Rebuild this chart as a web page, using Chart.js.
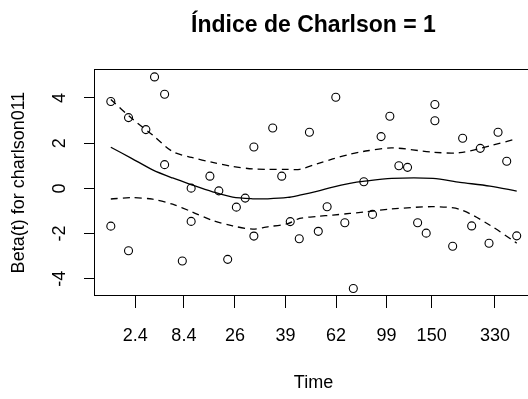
<!DOCTYPE html>
<html>
<head>
<meta charset="utf-8">
<script src="https://cdn.jsdelivr.net/npm/chart.js@4.4.1/dist/chart.umd.min.js"></script>
<style>
  html, body { margin: 0; padding: 0; background: #fff; overflow: hidden; }
  #wrap { position: relative; width: 540px; height: 399px; }
</style>
</head>
<body>
<div id="wrap"><canvas id="c" width="540" height="399" style="width:540px;height:399px"></canvas></div>
<script>
// Scaled Schoenfeld residuals for charlson011 against transformed event time
const timeRank = [1.0, 1.0, 3.02, 3.02, 5.0, 5.99, 7.14, 7.14, 9.16, 10.17, 10.17, 12.31,
  13.33, 14.34, 15.33, 16.34, 17.33, 17.33, 19.48, 20.51, 21.48, 22.51, 23.67, 24.68,
  25.69, 26.68, 27.71, 28.68, 29.88, 30.87, 31.85, 32.85, 33.88, 34.87, 36.02, 37.0,
  37.99, 37.99, 40.02, 41.16, 42.19, 43.17, 44.17, 45.2, 46.19, 47.33];
const residuals = [3.84, -1.67, 3.13, -2.76, 2.60, 4.93, 4.16, 1.05, -3.21, 0.01, -1.46, 0.54,
  -0.11, -3.14, -0.83, -0.43, 1.83, -2.11, 2.67, 0.54, -1.47, -2.23, 2.48, -1.90,
  -0.81, 4.03, -1.52, -4.43, 0.29, -1.15, 2.29, 3.19, 1.00, 0.93, -1.52, -1.98,
  3.71, 2.99, -2.56, 2.22, -1.66, 1.77, -2.43, 2.48, 1.20, -2.10];

// Smoothed Beta(t) with its confidence band
const smoothX = [1.0, 3.37, 5.77, 8.05, 10.22, 12.62, 14.91, 17.2, 18.91, 21.19, 22.56,
  24.62, 26.34, 28.28, 29.77, 33.08, 37.77, 40.85, 44.28, 47.33];
const betaFit = [1.82, 1.33, 0.82, 0.46, 0.16, -0.15, -0.39, -0.46, -0.46, -0.40, -0.30,
  -0.12, 0.06, 0.22, 0.31, 0.44, 0.44, 0.27, 0.10, -0.12];
const betaUpper = [3.93, 3.10, 2.36, 1.63, 1.37, 1.15, 0.97, 0.86, 0.84, 0.84, 0.84,
  1.10, 1.30, 1.51, 1.63, 1.79, 1.60, 1.58, 1.88, 2.20];
const betaLower = [-0.47, -0.41, -0.48, -0.70, -1.03, -1.42, -1.66, -1.80, -1.70, -1.56, -1.33,
  -1.24, -1.18, -1.11, -1.05, -0.91, -0.81, -0.93, -1.63, -2.42];

// Time axis: tick positions on the transformed scale and the times they stand for
const xTickPositions = [3.79, 9.34, 15.17, 20.93, 26.71, 32.47, 37.62, 44.85];
const xTickLabels = ['2.4', '8.4', '26', '39', '62', '99', '150', '330'];
const yTickValues = [-4, -2, 0, 2, 4];

const FONT = 'Liberation Sans, Arial, Helvetica, sans-serif';

const pairs = (xs, ys) => xs.map((x, i) => ({ x, y: ys[i] }));

// Draws the closed frame around the plotting region
const framePlugin = {
  id: 'frame',
  afterDatasetsDraw(chart) {
    const { ctx, chartArea: a } = chart;
    ctx.save();
    ctx.strokeStyle = '#000';
    ctx.lineWidth = 1;
    ctx.strokeRect(Math.round(a.left) + 0.5, Math.round(a.top) + 0.5,
      Math.round(a.right - a.left), Math.round(a.bottom - a.top) - 1);
    ctx.restore();
  }
};

const lineStyle = {
  type: 'line', borderColor: '#000', borderWidth: 1.3, pointRadius: 0,
  tension: 0.3, fill: false
};

new Chart(document.getElementById('c'), {
  data: {
    datasets: [
      { ...lineStyle, data: pairs(smoothX, betaFit) },
      { ...lineStyle, data: pairs(smoothX, betaUpper), borderDash: [7, 5] },
      { ...lineStyle, data: pairs(smoothX, betaLower), borderDash: [7, 5] },
      {
        type: 'scatter', data: pairs(timeRank, residuals),
        pointStyle: 'circle', pointRadius: 4, borderWidth: 1.1,
        borderColor: '#000', backgroundColor: 'rgba(0,0,0,0)'
      }
    ]
  },
  options: {
    responsive: false,
    animation: false,
    devicePixelRatio: 1,
    layout: { padding: { left: 0, right: 7, top: 0, bottom: 0 } },
    plugins: {
      legend: { display: false },
      tooltip: { enabled: false },
      title: {
        display: true, text: 'Índice de Charlson = 1', fullSize: false,
        color: '#000', font: { family: FONT, size: 23, weight: 'bold' },
        padding: { top: 12, bottom: 29.4 }
      }
    },
    scales: {
      x: {
        type: 'linear', position: 'bottom', min: -0.92, max: 49.19,
        afterBuildTicks: s => { s.ticks = xTickPositions.map(v => ({ value: v })); },
        afterFit: s => { s.height = 103; },
        border: { display: false },
        grid: { drawOnChartArea: false, drawTicks: true, tickLength: 12, tickColor: '#000', tickWidth: 1 },
        ticks: {
          autoSkip: false, maxRotation: 0, minRotation: 0, padding: 17, color: '#000',
          font: { family: FONT, size: 18 },
          callback: (v, i) => xTickLabels[i]
        },
        title: {
          display: true, text: 'Time', color: '#000',
          font: { family: FONT, size: 18 }, padding: { top: 0, bottom: 5 }
        }
      },
      y: {
        type: 'linear', position: 'left', min: -4.76, max: 5.28,
        afterBuildTicks: s => { s.ticks = yTickValues.map(v => ({ value: v })); },
        afterFit: s => { s.width = 94; },
        border: { display: false },
        grid: { drawOnChartArea: false, drawTicks: true, tickLength: 10, tickColor: '#000', tickWidth: 1 },
        ticks: {
          minRotation: 90, maxRotation: 90, crossAlign: 'center', padding: 16, color: '#000',
          font: { family: FONT, size: 18 },
          callback: v => String(v)
        },
        title: {
          display: true, text: 'Beta(t) for charlson011', color: '#000',
          font: { family: FONT, size: 18 }, padding: { top: 8, bottom: 0 }
        }
      }
    }
  },
  plugins: [framePlugin]
});
</script>
</body>
</html>
